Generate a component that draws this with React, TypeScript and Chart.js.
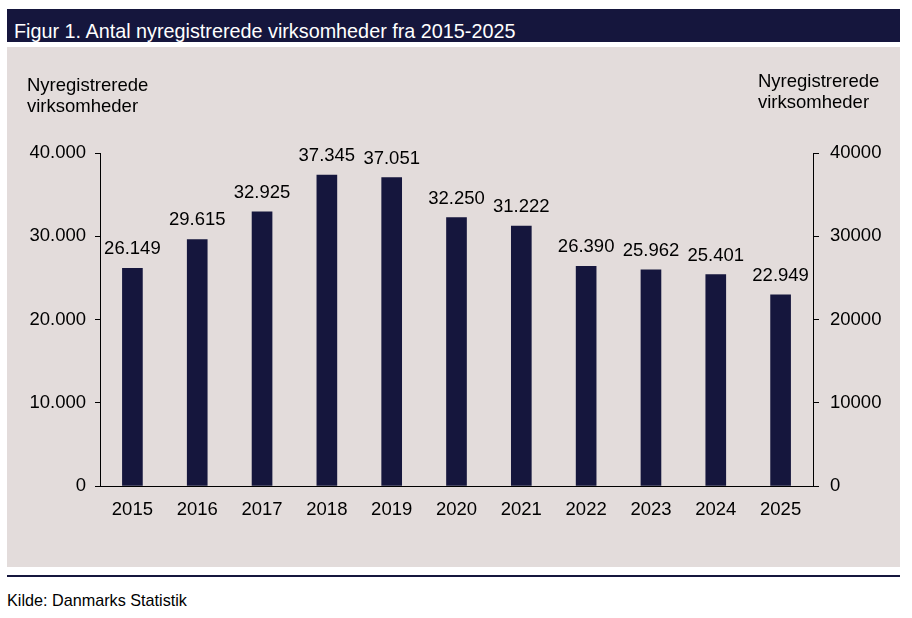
import React, { useRef, useEffect } from "react";
import { Chart, registerables } from "chart.js";

Chart.register(...registerables);

const years = ["2015", "2016", "2017", "2018", "2019", "2020", "2021", "2022", "2023", "2024", "2025"];
const newFirms = [26149, 29615, 32925, 37345, 37051, 32250, 31222, 26390, 25962, 25401, 22949];
const axisMax = 40000;
const axisStep = 10000;

const NAVY = "#15163d";
const PANEL = "#e3dcdb";
const FONT = '"Liberation Sans", Arial, sans-serif';

const fmtDk = (v: number) => v.toString().replace(/\B(?=(\d{3})+(?!\d))/g, ".");

const valueLabels = {
  id: "valueLabels",
  afterDatasetsDraw(chart: any) {
    const ctx = chart.ctx;
    const meta = chart.getDatasetMeta(0);
    ctx.save();
    ctx.font = `18.5px ${FONT}`;
    ctx.fillStyle = "#000";
    ctx.textAlign = "center";
    ctx.textBaseline = "alphabetic";
    meta.data.forEach((bar: any, i: number) => {
      ctx.fillText(fmtDk(newFirms[i]), bar.x, bar.y - 14);
    });
    ctx.restore();
  },
};

const NewFirmsChart: React.FC = () => {
  const chartRef = useRef<HTMLCanvasElement | null>(null);

  useEffect(() => {
    const tickFont = { family: FONT, size: 18.5 };
    const config: any = {
      type: "bar",
      data: {
        labels: years,
        datasets: [
          {
            data: newFirms,
            backgroundColor: NAVY,
            barThickness: 20,
            yAxisID: "y",
          },
        ],
      },
      options: {
        animation: false,
        responsive: true,
        maintainAspectRatio: false,
        layout: { padding: { top: 106, left: 0, right: 0, bottom: 0 } },
        plugins: {
          legend: { display: false },
          tooltip: { enabled: false },
        },
        scales: {
          x: {
            grid: { display: true, drawOnChartArea: false, drawTicks: false },
            border: { display: true, color: "#000", width: 1 },
            ticks: { color: "#000", font: tickFont, padding: 13 },
            afterFit: (s: any) => {
              s.height = 81;
            },
          },
          y: {
            position: "left",
            min: 0,
            max: axisMax,
            grid: { drawOnChartArea: false, tickLength: 5, color: "#000" },
            border: { display: true, color: "#000", width: 1 },
            ticks: {
              stepSize: axisStep,
              color: "#000",
              font: tickFont,
              padding: 9,
              callback: (v: number) => fmtDk(v),
            },
            afterFit: (s: any) => {
              s.width = 93;
            },
          },
          y2: {
            position: "right",
            min: 0,
            max: axisMax,
            grid: { drawOnChartArea: false, tickLength: 6, color: "#000" },
            border: { display: true, color: "#000", width: 1 },
            ticks: {
              stepSize: axisStep,
              color: "#000",
              font: tickFont,
              padding: 11,
              callback: (v: number) => String(v),
            },
            afterFit: (s: any) => {
              s.width = 87;
            },
          },
        },
      },
      plugins: [valueLabels],
    };

    const myChart = new Chart(chartRef.current!.getContext("2d")!, config);
    return () => {
      myChart.destroy();
    };
  }, []);

  return (
    <div style={{ position: "absolute", left: 7, top: 47, width: 893, height: 520, background: PANEL }}>
      <canvas ref={chartRef}></canvas>
    </div>
  );
};

const text: React.CSSProperties = { position: "absolute", fontFamily: FONT, color: "#000", whiteSpace: "nowrap" };

export default function App() {
  return (
    <div style={{ position: "absolute", left: 0, top: 0, width: 912, height: 618, background: "#fff", overflow: "hidden" }}>
      <div style={{ position: "absolute", left: 7, top: 9, width: 893, height: 33, background: NAVY }} />
      <div style={{ ...text, left: 14, top: 18.5, fontSize: 19.8, lineHeight: "24px", color: "#fff" }}>
        Figur 1. Antal nyregistrerede virksomheder fra 2015-2025
      </div>
      <NewFirmsChart />
      <div style={{ ...text, left: 27, top: 74, fontSize: 18.5, lineHeight: "21px" }}>
        Nyregistrerede
        <br />
        virksomheder
      </div>
      <div style={{ ...text, left: 758, top: 70, fontSize: 18.5, lineHeight: "21px" }}>
        Nyregistrerede
        <br />
        virksomheder
      </div>
      <div style={{ position: "absolute", left: 7, top: 575, width: 893, height: 2, background: NAVY }} />
      <div style={{ ...text, left: 7, top: 591, fontSize: 16.2, lineHeight: "19px" }}>Kilde: Danmarks Statistik</div>
    </div>
  );
}
